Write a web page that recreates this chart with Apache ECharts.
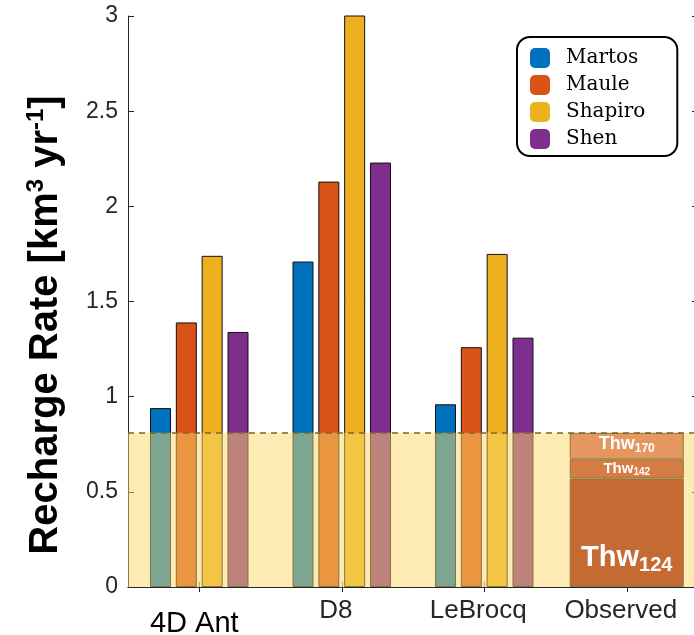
<!DOCTYPE html>
<html>
<head>
<meta charset="utf-8">
<script src="https://cdn.jsdelivr.net/npm/echarts@6/dist/echarts.min.js"></script>
<style>html,body{margin:0;padding:0;background:#fff;}#c{width:694px;height:635px;}</style>
</head>
<body>
<div id="c"></div>
<script>
// ---- data ----
const categories = ['4D Ant', 'D8', 'LeBrocq', 'Observed'];
const seriesNames = ['Martos', 'Maule', 'Shapiro', 'Shen'];
const martos  = [0.94, 1.71, 0.96, '-'];
const maule   = [1.39, 2.13, 1.26, '-'];
const shapiro = [1.74, 3.25, 1.75, '-'];
const shen    = [1.34, 2.23, 1.31, '-'];
const observedNames = ['Thw124', 'Thw142', 'Thw170'];
const thw124 = ['-', '-', '-', 0.57];
const thw142 = ['-', '-', '-', 0.10];
const thw170 = ['-', '-', '-', 0.14];
const observedTotal = 0.81;
const yTicks = [0, 0.5, 1, 1.5, 2, 2.5, 3];

// ---- styles ----
const modelColors = ['#0072BD', '#D95319', '#EDB120', '#7E2F8E'];
const obsColors = ['#C66A33', '#D87C45', '#E59760'];
const modelData = [martos, maule, shapiro, shen];
const obsData = [thw124, thw142, thw170];

const chart = echarts.init(document.getElementById('c'), null, {renderer: 'canvas'});

const series = [];
seriesNames.forEach((n, i) => {
  series.push({
    name: n, type: 'bar', xAxisIndex: 0, yAxisIndex: 0,
    data: modelData[i], barWidth: 21, barGap: '23%', z: 2,
    itemStyle: {color: modelColors[i], borderColor: '#111', borderWidth: 1}
  });
});
// overlay band + dashed line
series.push({
  name: 'band', type: 'line', xAxisIndex: 0, yAxisIndex: 0,
  data: ['-', '-', '-', '-'], symbol: 'none', silent: true,
  markArea: {
    silent: true, z: 3,
    itemStyle: {color: 'rgba(251,215,104,0.5)'},
    data: [[{yAxis: 0}, {yAxis: observedTotal}]]
  },
  markLine: {
    silent: true, symbol: ['none', 'none'], z: 6,
    label: {show: false},
    lineStyle: {type: [6, 5], color: '#7a6428', width: 1.5},
    data: [{yAxis: observedTotal}]
  }
});
const obsLabels = [
  {position: 'insideBottom', distance: 12, fmt: '{m|Thw}{s|124}', m: 29, s: 20, lh: 34, sl: 20},
  {position: 'inside', distance: 0, fmt: '{m|Thw}{s|142}', m: 15, s: 10, lh: 17, sl: 10},
  {position: 'insideTop', distance: 1, fmt: '{m|Thw}{s|170}', m: 18, s: 12, lh: 21, sl: 12}
];
observedNames.forEach((n, i) => {
  const L = obsLabels[i];
  series.push({
    name: n, type: 'bar', xAxisIndex: 1, yAxisIndex: 0, stack: 'obs',
    data: obsData[i], barWidth: 114, z: 4,
    itemStyle: {color: obsColors[i], borderColor: '#8a7a3a', borderWidth: 1},
    label: {
      show: true, position: L.position, distance: L.distance,
      formatter: L.fmt,
      rich: {
        m: {fontFamily: 'Liberation Sans', fontWeight: 'bold', fontSize: L.m, color: '#fff', lineHeight: L.lh},
        s: {fontFamily: 'Liberation Sans', fontWeight: 'bold', fontSize: L.s, color: '#fff', lineHeight: L.sl, verticalAlign: 'bottom'}
      }
    }
  });
});

const option = {
  animation: false,
  backgroundColor: '#fff',
  textStyle: {fontFamily: 'Liberation Sans'},
  grid: {left: 128, top: 16, width: 570, height: 571, containLabel: false, outerBoundsMode: 'none'},
  legend: {
    data: seriesNames,
    orient: 'vertical', left: 517, top: 37,
    padding: [11, 32, 7, 13],
    itemWidth: 20, itemHeight: 20, itemGap: 7,
    icon: 'roundRect',
    itemStyle: {borderWidth: 0},
    borderColor: '#000', borderWidth: 2, borderRadius: 13, backgroundColor: '#fff',
    textStyle: {fontFamily: 'DejaVu Serif', fontSize: 20, color: '#000', lineHeight: 20, padding: [0, 0, 0, 11]}
  },
  xAxis: [
    {
      type: 'category', position: 'bottom',
      data: categories.map((c, i) => i === 0
        ? {value: c, textStyle: {fontSize: 29, color: '#000', padding: [11, 10, 0, 0]}}
        : {value: c}),
      axisLine: {show: true, lineStyle: {color: '#7d6b34', width: 1}},
      axisTick: {show: true, inside: true, alignWithLabel: true, length: 5, lineStyle: {color: '#7d6b34'}},
      axisLabel: {interval: 0, hideOverlap: false, fontSize: 26, color: '#262626', margin: 11, padding: [0, 12, 0, 0], fontFamily: 'Liberation Sans'},
      splitLine: {show: false}
    },
    {
      type: 'category', position: 'top', data: categories,
      axisLine: {show: true, lineStyle: {color: '#262626', width: 1}},
      axisTick: {show: true, inside: true, alignWithLabel: true, length: 5, lineStyle: {color: '#262626'}},
      axisLabel: {show: false}, splitLine: {show: false}
    }
  ],
  yAxis: [
    {
      type: 'value', min: yTicks[0], max: yTicks[yTicks.length - 1], interval: 0.5,
      axisLine: {show: true, lineStyle: {color: '#262626', width: 1}},
      axisTick: {show: true, inside: true, length: 6, lineStyle: {color: '#262626'}},
      axisLabel: {fontSize: 23, color: '#262626', margin: 10, fontFamily: 'Liberation Sans'},
      splitLine: {show: false}
    },
    {
      type: 'value', position: 'right', min: yTicks[0], max: yTicks[yTicks.length - 1], interval: 0.5,
      axisLine: {show: true, lineStyle: {color: '#262626', width: 1}},
      axisTick: {show: true, inside: true, length: 6, lineStyle: {color: '#262626'}},
      axisLabel: {show: false}, splitLine: {show: false}
    }
  ],
  graphic: [{
    type: 'text', x: 46, y: 325, rotation: Math.PI / 2,
    style: {
      text: '{b|Recharge Rate [km}{p|3}{b| yr}{p|-1}{b|]}',
      align: 'center', verticalAlign: 'middle',
      rich: {
        b: {fontFamily: 'Liberation Sans', fontWeight: 'bold', fontSize: 40, fill: '#000', lineHeight: 43},
        p: {fontFamily: 'Liberation Sans', fontWeight: 'bold', fontSize: 24, fill: '#000', lineHeight: 24, verticalAlign: 'top'}
      }
    }
  }],
  series: series
};
chart.setOption(option);
</script>
</body>
</html>
